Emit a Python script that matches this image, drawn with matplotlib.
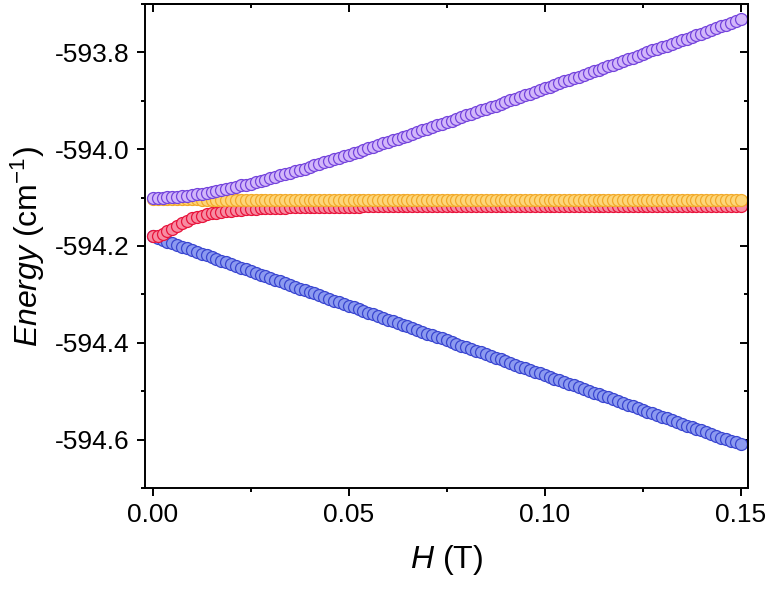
import matplotlib
matplotlib.use("Agg")
import matplotlib.pyplot as plt
from matplotlib.ticker import MultipleLocator, FormatStrFormatter

plt.rcParams['font.family'] = ['Liberation Sans', 'DejaVu Sans']
plt.rcParams['mathtext.fontset'] = 'custom'
plt.rcParams['mathtext.rm'] = 'Liberation Sans'
plt.rcParams['mathtext.it'] = 'Liberation Sans:italic'
plt.rcParams['axes.unicode_minus'] = False

# field (T)
H = [0.0, 0.00125, 0.0025, 0.00375, 0.005, 0.00625, 0.0075, 0.00875, 0.01, 0.01125,
     0.0125, 0.01375, 0.015, 0.01625, 0.0175, 0.01875, 0.02, 0.02125, 0.0225, 0.02375,
     0.025, 0.02625, 0.0275, 0.02875, 0.03, 0.03125, 0.0325, 0.03375, 0.035, 0.03625,
     0.0375, 0.03875, 0.04, 0.04125, 0.0425, 0.04375, 0.045, 0.04625, 0.0475, 0.04875,
     0.05, 0.05125, 0.0525, 0.05375, 0.055, 0.05625, 0.0575, 0.05875, 0.06, 0.06125,
     0.0625, 0.06375, 0.065, 0.06625, 0.0675, 0.06875, 0.07, 0.07125, 0.0725, 0.07375,
     0.075, 0.07625, 0.0775, 0.07875, 0.08, 0.08125, 0.0825, 0.08375, 0.085, 0.08625,
     0.0875, 0.08875, 0.09, 0.09125, 0.0925, 0.09375, 0.095, 0.09625, 0.0975, 0.09875,
     0.1, 0.10125, 0.1025, 0.10375, 0.105, 0.10625, 0.1075, 0.10875, 0.11, 0.11125,
     0.1125, 0.11375, 0.115, 0.11625, 0.1175, 0.11875, 0.12, 0.12125, 0.1225, 0.12375,
     0.125, 0.12625, 0.1275, 0.12875, 0.13, 0.13125, 0.1325, 0.13375, 0.135, 0.13625,
     0.1375, 0.13875, 0.14, 0.14125, 0.1425, 0.14375, 0.145, 0.14625, 0.1475, 0.14875,
     0.15]

# energies (cm-1)
e_blue = [-594.180, -594.184, -594.187, -594.191, -594.194, -594.198, -594.202, -594.205, -594.209, -594.212,
          -594.216, -594.219, -594.223, -594.227, -594.230, -594.234, -594.237, -594.241, -594.245, -594.248,
          -594.252, -594.255, -594.259, -594.262, -594.266, -594.270, -594.273, -594.277, -594.280, -594.284,
          -594.288, -594.291, -594.295, -594.298, -594.302, -594.305, -594.309, -594.313, -594.316, -594.320,
          -594.323, -594.327, -594.331, -594.334, -594.338, -594.341, -594.345, -594.348, -594.352, -594.356,
          -594.359, -594.363, -594.366, -594.370, -594.374, -594.377, -594.381, -594.384, -594.388, -594.391,
          -594.395, -594.399, -594.402, -594.406, -594.409, -594.413, -594.417, -594.420, -594.424, -594.427,
          -594.431, -594.434, -594.438, -594.442, -594.445, -594.449, -594.452, -594.456, -594.460, -594.463,
          -594.467, -594.470, -594.474, -594.477, -594.481, -594.485, -594.488, -594.492, -594.495, -594.499,
          -594.503, -594.506, -594.510, -594.513, -594.517, -594.520, -594.524, -594.528, -594.531, -594.535,
          -594.538, -594.542, -594.546, -594.549, -594.553, -594.556, -594.560, -594.563, -594.567, -594.571,
          -594.574, -594.578, -594.581, -594.585, -594.589, -594.592, -594.596, -594.599, -594.603, -594.606,
          -594.610]

e_red = [-594.180, -594.179, -594.175, -594.170, -594.164, -594.158, -594.152, -594.148, -594.143, -594.140,
         -594.137, -594.134, -594.132, -594.131, -594.129, -594.128, -594.127, -594.126, -594.125, -594.124,
         -594.123, -594.123, -594.122, -594.122, -594.122, -594.121, -594.121, -594.121, -594.120, -594.120,
         -594.120, -594.120, -594.120, -594.120, -594.119, -594.119, -594.119, -594.119, -594.119, -594.119,
         -594.119, -594.119, -594.119, -594.118, -594.118, -594.118, -594.118, -594.118, -594.118, -594.118,
         -594.118, -594.118, -594.118, -594.118, -594.118, -594.118, -594.118, -594.118, -594.118, -594.118,
         -594.118, -594.118, -594.118, -594.118, -594.118, -594.118, -594.118, -594.118, -594.118, -594.118,
         -594.118, -594.118, -594.118, -594.118, -594.118, -594.118, -594.118, -594.118, -594.118, -594.118,
         -594.117, -594.117, -594.117, -594.117, -594.117, -594.117, -594.117, -594.117, -594.117, -594.117,
         -594.117, -594.117, -594.117, -594.117, -594.117, -594.117, -594.117, -594.117, -594.117, -594.117,
         -594.117, -594.117, -594.117, -594.117, -594.117, -594.117, -594.117, -594.117, -594.117, -594.117,
         -594.117, -594.117, -594.117, -594.117, -594.117, -594.117, -594.117, -594.117, -594.117, -594.117,
         -594.117]

e_yellow = [-594.102, -594.102, -594.102, -594.102, -594.103, -594.103, -594.103, -594.103, -594.103, -594.103,
            -594.104, -594.104, -594.104, -594.104, -594.104, -594.104, -594.104, -594.104, -594.104, -594.104,
            -594.104, -594.104, -594.104, -594.104, -594.104, -594.104, -594.104, -594.104, -594.104, -594.104,
            -594.104, -594.104, -594.104, -594.104, -594.104, -594.104, -594.104, -594.104, -594.104, -594.104,
            -594.104, -594.104, -594.104, -594.104, -594.104, -594.104, -594.104, -594.104, -594.104, -594.104,
            -594.104, -594.104, -594.104, -594.104, -594.104, -594.104, -594.104, -594.104, -594.104, -594.104,
            -594.104, -594.104, -594.104, -594.104, -594.104, -594.104, -594.104, -594.104, -594.104, -594.104,
            -594.104, -594.104, -594.104, -594.104, -594.104, -594.104, -594.104, -594.104, -594.104, -594.104,
            -594.104, -594.104, -594.104, -594.104, -594.104, -594.104, -594.104, -594.104, -594.104, -594.104,
            -594.104, -594.104, -594.104, -594.104, -594.104, -594.104, -594.104, -594.104, -594.104, -594.104,
            -594.104, -594.104, -594.104, -594.104, -594.104, -594.104, -594.104, -594.104, -594.104, -594.104,
            -594.104, -594.104, -594.104, -594.104, -594.104, -594.104, -594.104, -594.104, -594.104, -594.104,
            -594.104]

e_purple = [-594.100, -594.100, -594.100, -594.099, -594.099, -594.098, -594.097, -594.096, -594.095, -594.093,
            -594.092, -594.090, -594.088, -594.086, -594.084, -594.082, -594.080, -594.078, -594.075, -594.073,
            -594.071, -594.068, -594.065, -594.063, -594.060, -594.057, -594.054, -594.051, -594.049, -594.046,
            -594.043, -594.040, -594.037, -594.033, -594.030, -594.027, -594.024, -594.021, -594.018, -594.015,
            -594.011, -594.008, -594.005, -594.002, -593.998, -593.995, -593.992, -593.988, -593.985, -593.982,
            -593.978, -593.975, -593.972, -593.968, -593.965, -593.961, -593.958, -593.955, -593.951, -593.948,
            -593.944, -593.941, -593.937, -593.934, -593.930, -593.927, -593.924, -593.920, -593.917, -593.913,
            -593.910, -593.906, -593.903, -593.899, -593.896, -593.892, -593.889, -593.885, -593.881, -593.878,
            -593.874, -593.871, -593.867, -593.864, -593.860, -593.857, -593.853, -593.850, -593.846, -593.843,
            -593.839, -593.836, -593.832, -593.828, -593.825, -593.821, -593.818, -593.814, -593.811, -593.807,
            -593.804, -593.800, -593.796, -593.793, -593.789, -593.786, -593.782, -593.779, -593.775, -593.772,
            -593.768, -593.764, -593.761, -593.757, -593.754, -593.750, -593.746, -593.743, -593.739, -593.736,
            -593.732]

fig = plt.figure(figsize=(7.69, 5.89), dpi=100)
ax = fig.add_axes([0.188, 0.1715, 0.7847, 0.8217])

# draw order: blue, red, yellow, purple (later ones sit on top)
ax.plot(H, e_blue, 'o', ls='none', ms=8.6, mfc='#8c9af0', mec='#3a46d0', mew=0.9)
ax.plot(H, e_red, 'o', ls='none', ms=8.6, mfc='#f78ca2', mec='#e8143c', mew=0.9)
ax.plot(H, e_yellow, 'o', ls='none', ms=8.6, mfc='#fdd67a', mec='#f2aa2a', mew=0.9)
ax.plot(H, e_purple, 'o', ls='none', ms=8.6, mfc='#d2b6fa', mec='#7444dc', mew=0.9)

ax.set_xlim(-0.0021, 0.1519)
ax.set_ylim(-594.7, -593.7)

ax.xaxis.set_major_locator(MultipleLocator(0.05))
ax.xaxis.set_minor_locator(MultipleLocator(0.025))
ax.yaxis.set_major_locator(MultipleLocator(0.2))
ax.yaxis.set_minor_locator(MultipleLocator(0.1))
ax.xaxis.set_major_formatter(FormatStrFormatter('%.2f'))
ax.yaxis.set_major_formatter(FormatStrFormatter('%.1f'))

for s in ax.spines.values():
    s.set_linewidth(1.4)
ax.tick_params(which='major', direction='out', length=5.5, width=1.4, labelsize=19, pad=5)
ax.tick_params(which='minor', direction='out', length=3, width=1.4)

# inward mirror ticks on top and right
top = ax.secondary_xaxis('top')
top.xaxis.set_major_locator(MultipleLocator(0.05))
top.xaxis.set_minor_locator(MultipleLocator(0.025))
top.tick_params(which='major', direction='in', length=5.5, width=1.4, labeltop=False)
top.tick_params(which='minor', direction='in', length=3, width=1.4)
top.spines['top'].set_linewidth(1.4)
right = ax.secondary_yaxis('right')
right.yaxis.set_major_locator(MultipleLocator(0.2))
right.yaxis.set_minor_locator(MultipleLocator(0.1))
right.tick_params(which='major', direction='in', length=5.5, width=1.4, labelright=False)
right.tick_params(which='minor', direction='in', length=3, width=1.4)
right.spines['right'].set_linewidth(1.4)

ax.set_xlabel(r'$\mathit{H}$ (T)', fontsize=23, labelpad=12)
ax.set_ylabel(r'$\mathit{Energy}$ (cm$^{-1}$)', fontsize=23, labelpad=6)

fig.savefig('out.png', dpi=100)
